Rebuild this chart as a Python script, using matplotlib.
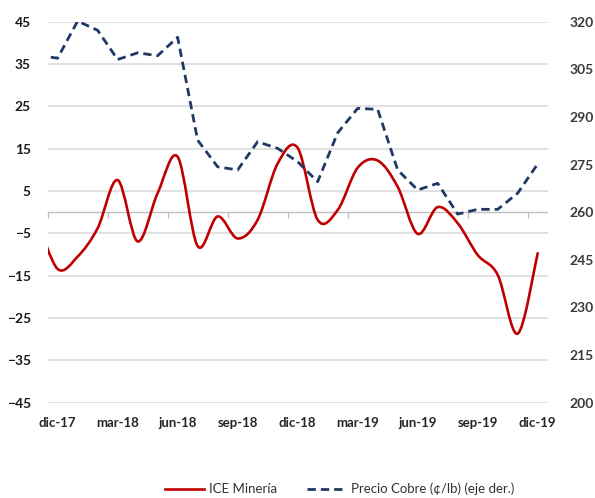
import matplotlib
matplotlib.use('Agg')
import matplotlib.pyplot as plt
from matplotlib.path import Path
from matplotlib.patches import PathPatch
from matplotlib.lines import Line2D
import numpy as np

# monthly data, nov-17 .. dic-19 (nov-17 sits just outside the visible range)
months = ['nov-17', 'dic-17', 'ene-18', 'feb-18', 'mar-18', 'abr-18', 'may-18',
          'jun-18', 'jul-18', 'ago-18', 'sep-18', 'oct-18', 'nov-18', 'dic-18',
          'ene-19', 'feb-19', 'mar-19', 'abr-19', 'may-19', 'jun-19', 'jul-19',
          'ago-19', 'sep-19', 'oct-19', 'nov-19', 'dic-19']
ice_mineria = [-2.0, -13.4, -10.5, -3.8, 7.6, -6.9, 4.5, 13.1, -8.0, -1.0, -6.2,
               -1.8, 11.5, 15.2, -1.8, 0.5, 10.5, 12.2, 6.0, -5.1, 1.2, -2.6,
               -10.1, -14.8, -28.7, -9.7]
precio_cobre = [309.5, 308.5, 320.2, 317.3, 308.1, 310.2, 309.3, 315.1, 282.7,
                274.3, 273.3, 282.2, 280.1, 275.9, 269.6, 285.0, 292.7, 292.4,
                273.3, 267.0, 269.1, 259.4, 260.9, 260.9, 266.0, 275.2]
tick_labels = ['dic-17', 'mar-18', 'jun-18', 'sep-18', 'dic-18',
               'mar-19', 'jun-19', 'sep-19', 'dic-19']

plt.rcParams['font.family'] = ['Lato', 'DejaVu Sans']

x = np.arange(len(months)) - 1  # dic-17 -> 0


def smooth_path(xs, ys):
    # Excel-like smoothed line: Catmull-Rom segments as cubic Bezier curves
    pts = np.column_stack([xs, ys]).astype(float)
    verts = [pts[0]]
    codes = [Path.MOVETO]
    n = len(pts)
    for i in range(n - 1):
        p0 = pts[i - 1] if i > 0 else pts[i]
        p1 = pts[i]
        p2 = pts[i + 1]
        p3 = pts[i + 2] if i + 2 < n else pts[i + 1]
        verts += [p1 + (p2 - p0) / 6.0, p2 - (p3 - p1) / 6.0, p2]
        codes += [Path.CURVE4] * 3
    return Path(verts, codes)


fig = plt.figure(figsize=(5.95, 4.98), dpi=100)
ax = fig.add_axes([0.080, 0.1914, 0.8405, 0.765])

red = '#C00000'
navy = '#1F3864'
grid_c = '#d9d9d9'

ax.add_patch(PathPatch(smooth_path(x, ice_mineria), facecolor='none',
                       edgecolor=red, lw=1.9, capstyle='round', zorder=3))
ax.set_xlim(-0.5, 24.5)
ax.set_ylim(-45, 45)
ax.set_yticks(np.arange(-45, 46, 10))
ax.grid(axis='y', color=grid_c, lw=1.1)
ax.set_axisbelow(True)
for s in ax.spines.values():
    s.set_visible(False)

ax.set_xticks(np.arange(0, 25, 3))
ax.set_xticklabels(tick_labels)
ax.tick_params(axis='x', length=0, pad=10, labelsize=9.5, labelcolor='#262626')
ax.tick_params(axis='y', length=0, pad=12, labelsize=10, labelcolor='#1a1a1a')
for lab in ax.get_xticklabels() + ax.get_yticklabels():
    lab.set_fontweight('bold')

# horizontal axis line at zero, with tick marks between quarter categories
ax.axhline(0, color='#bfbfbf', lw=1.0, zorder=1)
bounds = np.arange(-0.5, 25, 3)
ax.plot(bounds, np.zeros(len(bounds)), ls='none', marker=3, ms=4,
        mew=1.0, color='#bfbfbf', clip_on=False, zorder=1)

ax2 = ax.twinx()
ax2.plot(x, precio_cobre, color=navy, lw=2.0, ls=(0, (3, 1.8)))
ax2.set_ylim(200, 320)
ax2.set_yticks(np.arange(200, 321, 15))
ax2.tick_params(axis='y', length=0, pad=16, labelsize=10, labelcolor='#3a3a3a')
for lab in ax2.get_yticklabels():
    lab.set_fontweight('bold')
for s in ax2.spines.values():
    s.set_visible(False)

handles = [Line2D([], [], color=red, lw=1.9),
           Line2D([], [], color=navy, lw=2.0, ls=(0, (3, 1.8)))]
fig.legend(handles, ['ICE Minería', 'Precio Cobre (¢/lb) (eje der.)'],
           loc='center', bbox_to_anchor=(0.571, 0.018), ncol=2, frameon=False,
           fontsize=9.5, handlelength=3.0, handletextpad=0.4, columnspacing=2.2,
           labelcolor='#333333')

fig.savefig('out.png', dpi=100)
